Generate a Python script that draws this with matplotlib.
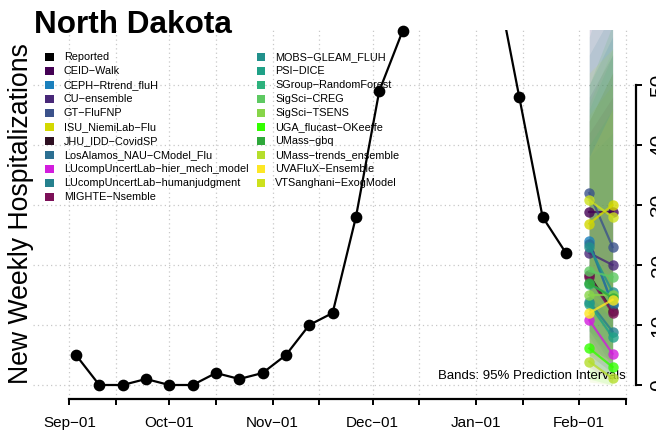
import matplotlib
matplotlib.use("Agg")
import matplotlib.pyplot as plt
import matplotlib.dates as mdates
from matplotlib.patches import Patch
import datetime as dt

plt.rcParams['font.family'] = ['Liberation Sans', 'DejaVu Sans']

# ---------------- data ----------------
state = "North Dakota"

reported_dates = [dt.date(2022, 9, 3) + dt.timedelta(weeks=i) for i in range(22)]
reported_values = [5, 0, 0, 1, 0, 0, 2, 1, 2, 5, 10, 12, 28, 49, 59,
                   78, 85, 80, 68, 48, 28, 22]

forecast_dates = [dt.date(2023, 2, 4), dt.date(2023, 2, 11)]

models = ["CEID-Walk", "CEPH-Rtrend_fluH", "CU-ensemble", "GT-FluFNP",
          "ISU_NiemiLab-Flu", "JHU_IDD-CovidSP", "LosAlamos_NAU-CModel_Flu",
          "LUcompUncertLab-hier_mech_model", "LUcompUncertLab-humanjudgment",
          "MIGHTE-Nsemble", "MOBS-GLEAM_FLUH", "PSI-DICE", "SGroup-RandomForest",
          "SigSci-CREG", "SigSci-TSENS", "UGA_flucast-OKeeffe", "UMass-gbq",
          "UMass-trends_ensemble", "UVAFluX-Ensemble", "VTSanghani-ExogModel"]

model_colors = ["#440154", "#1b80bd", "#482878", "#3b528b",
                "#d3d800", "#2e0f22", "#2c6f92",
                "#d21ddd", "#26818e",
                "#7c1058", "#21918c", "#1fa187", "#2db27d",
                "#5ec962", "#87d549", "#33ff00", "#2ea83a",
                "#b5de2b", "#fde725", "#cde11d"]

# median forecasts, horizon 1 and 2
median_h1 = [28.9, 24.0, 22.0, 32.0, 26.9, 18.3, 23.5, 10.8, 13.9, 18.0,
             23.0, 13.5, 16.8, 19.0, 15.0, 6.1, 17.0, 3.9, 12.0, 30.8]
median_h2 = [28.9, 13.3, 20.0, 23.0, 30.0, 12.3, 13.5, 5.2, 8.9, 12.0,
             15.5, 8.0, 14.8, 18.0, 15.0, 3.0, 14.5, 1.1, 14.2, 28.0]

# 95% prediction interval bounds
lower_h1 = [12, 8, 9, 14, 12, 5, 9, 3, 4, 6, 9, 4, 6, 8, 5, 1, 6, 0.5, 4, 15]
lower_h2 = [9, 2, 6, 7, 12, 2, 3, 0.5, 1, 3, 4, 1, 4, 5, 4, 0, 4, 0, 4, 11]
upper_h1 = [60, 50, 48, 62, 45, 44, 55, 30, 38, 42, 58, 40, 46, 47, 44, 22, 50, 16, 38, 52]
upper_h2 = [75, 58, 55, 72, 50, 52, 62, 28, 42, 48, 70, 46, 55, 56, 52, 18, 60, 12, 46, 56]

# ---------------- figure ----------------
fig = plt.figure(figsize=(6.56, 4.33), dpi=100)
W, H = 656, 433
left_px, right_px, top_px, bot_px = 33, 635.7, 30, 399
ax = fig.add_axes([left_px / W, 1 - bot_px / H,
                   (right_px - left_px) / W, (bot_px - top_px) / H])

sep1 = mdates.date2num(dt.date(2022, 9, 1))
px_per_day = 3.333
ax.set_xlim(sep1 - (69.3 - left_px) / px_per_day, sep1 + (right_px - 69.3) / px_per_day)
ax.set_ylim(-(bot_px - 385) / 6.0, (385 - top_px) / 6.0)

# ticks at 1st and 15th of each month
tick_dates = []
for y, m in [(2022, 9), (2022, 10), (2022, 11), (2022, 12), (2023, 1), (2023, 2)]:
    tick_dates += [dt.date(y, m, 1), dt.date(y, m, 15)]
tick_labels = [d.strftime("%b-%d").replace("-", "\u2212") if d.day == 1 else "" for d in tick_dates]
ax.set_xticks(mdates.date2num(tick_dates))
ax.set_xticklabels(tick_labels, fontsize=11)

yticks = [0, 10, 20, 30, 40, 50]
ax.set_yticks(yticks)
ax.yaxis.tick_right()
ax.set_yticklabels([str(v) for v in yticks], fontsize=15, rotation=90, va='center')

ax.grid(True, color='#c8c8c8', linestyle=(0, (1, 2.5)), linewidth=0.9)
ax.set_axisbelow(True)

for s in ['left', 'top']:
    ax.spines[s].set_visible(False)
ax.spines['bottom'].set_bounds(mdates.date2num(tick_dates[0]), mdates.date2num(tick_dates[-1]))
ax.spines['right'].set_bounds(0, 50)
ax.spines['bottom'].set_linewidth(1.6)
ax.spines['right'].set_linewidth(1.6)
ax.tick_params(axis='both', direction='out', length=4, width=1.4)
ax.tick_params(axis='x', pad=8)
ax.tick_params(axis='y', pad=6)

# prediction bands
fx = mdates.date2num(forecast_dates)
for i, c in enumerate(model_colors):
    ax.fill_between(fx, [lower_h1[i], lower_h2[i]], [upper_h1[i], upper_h2[i]],
                    color=c, alpha=0.10, linewidth=0)

# reported data
rx = mdates.date2num(reported_dates)
ax.plot(rx, reported_values, color='black', linewidth=1.6, zorder=4)
ax.scatter(rx, reported_values, s=55, color='black', zorder=5, clip_on=False)

# forecast medians
for i, c in enumerate(model_colors):
    ax.plot(fx, [median_h1[i], median_h2[i]], color=c, linewidth=1.6, alpha=0.8,
            marker='o', markersize=7.5, markeredgewidth=0, zorder=6)

ax.text(mdates.date2num(dt.date(2023, 2, 15)), 0.5, "Bands: 95% Prediction Intervals",
        ha='right', va='bottom', fontsize=9.5)

# legend
handles = [Patch(facecolor='black', edgecolor='none')]
labels = ["Reported"]
for m, c in zip(models, model_colors):
    handles.append(Patch(facecolor=c, edgecolor='none'))
    labels.append(m.replace("-", "\u2212"))
fig.legend(handles, labels, loc='upper left', bbox_to_anchor=(40 / W, 1 - 47 / H),
           ncol=2, frameon=False, fontsize=7.8, handlelength=0.8, handleheight=0.75,
           handletextpad=0.9, labelspacing=0.37, columnspacing=0.75, borderpad=0)

fig.text(34 / W, 1 - 33 / H, state, fontsize=22.7, fontweight='bold', ha='left', va='baseline')
fig.text(21 / W, 1 - 214 / H, "New Weekly Hospitalizations", fontsize=19.2,
         rotation=90, ha='center', va='center')

fig.savefig("out.png", dpi=100)
